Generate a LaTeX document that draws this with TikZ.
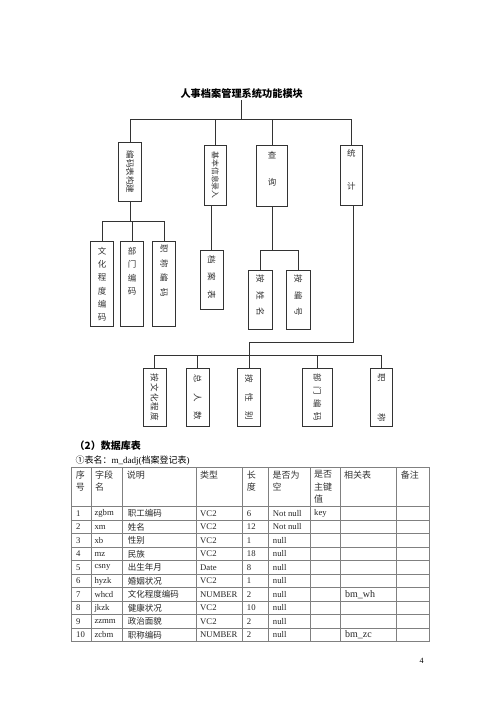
\documentclass[tikz,border=0pt]{standalone}
\usepackage{fontspec}
\setmainfont{Liberation Serif}
\newfontfamily\cjk{Noto Sans CJK SC}
\usepackage{graphicx}
\usetikzlibrary{positioning}

\tikzset{
	box/.style={draw=black!80, fill=white, line width=0.8pt, inner sep=0pt, align=center, text=black!80, font=\cjk\fontsize{8.5}{11}\selectfont},
	wire/.style={draw=black!80, line width=0.8pt},
	rule/.style={draw=black!50, line width=0.8pt},
	cell/.style={anchor=west, inner sep=0pt, text=black!85, font=\fontsize{8.7}{11}\selectfont},
	head/.style={anchor=north west, inner sep=0pt, align=left, text=black!80, font=\cjk\fontsize{9}{12.5}\selectfont},
}
\newcommand{\vtxt}[1]{\rotatebox{-90}{#1}}
\newcommand{\gp}[1]{\hspace{#1pt}}

\begin{document}
\begin{tikzpicture}[x=1pt, y=-1pt]
		\fill[white] (0,0) rectangle (500,708);
		
		\node[inner sep=1pt, font=\cjk\bfseries\fontsize{10.2}{12}\selectfont](T) at (241.7,94){人事档案管理系统功能模块};
		
		\node[box, minimum width=23, minimum height=59.4](B1) at (130.2,172){\vtxt{编码表构建}};
		\node[box, minimum width=22.7, minimum height=59.7](B2) at (215.3,175.2){\vtxt{\fontsize{7.8}{9}\selectfont 基本信息录入}};
		\node[box, minimum width=31, minimum height=61.4](B3) at (272.2,176){查\\[15.7pt]询\\[4pt]\mbox{}};
		\node[box, minimum width=22.7, minimum height=59.7](B4) at (351.3,175.2){统\\[22.4pt]计\\\mbox{}};
		
		\coordinate (J0) at (241.7,119.5);
		\draw[wire] (T) -- (J0);
		\draw[wire] (B1.north) -- (B1.north|-J0) -- (B4.north|-J0) -- (B4.north);
		\draw[wire] (B2.north) -- (B2.north|-J0);
		\draw[wire] (B3.north) -- (B3.north|-J0);
		
		\node[box, minimum width=22.6, minimum height=85, font=\cjk\fontsize{8.5}{13.3}\selectfont](S1) at (102,284.2){文\\化\\程\\度\\编\\码};
		\node[box, minimum width=22.6, minimum height=85, font=\cjk\fontsize{8.5}{13.3}\selectfont](S2) at (132,284.2){部\\门\\编\\码\\\mbox{}\\\mbox{}};
		\node[box, minimum width=23, minimum height=85](S3) at (164.2,284.2){\vtxt{职\gp6称\gp6编\gp6码\gp{27}}};
		\node[box, minimum width=23.3, minimum height=59.3](S4) at (211.7,279.7){\vtxt{档\gp9案\gp9表\gp5}};
		
		\coordinate (J1) at (130.2,221.7);
		\draw[wire] (B1) -- (J1);
		\draw[wire] (S1.north) -- (S1.north|-J1) -- (S3.north|-J1) -- (S3.north);
		\draw[wire] (S2.north) -- (S2.north|-J1);
		\draw[wire] (S4.north) -- (S4.north|-B2.south);
		
		\node[box, minimum width=24, minimum height=59.3](Q1) at (260.3,299.7){\vtxt{按\gp8姓\gp8名\gp8}};
		\node[box, minimum width=23.3, minimum height=59.3](Q2) at (298.3,299.7){\vtxt{按\gp8编\gp8号\gp8}};
		
		\coordinate (J2) at (272.2,250.7);
		\draw[wire] (B3) -- (J2);
		\draw[wire] (Q1.north) -- (Q1.north|-J2) -- (Q2.north|-J2) -- (Q2.north);
		
		\node[box, minimum width=22.7, minimum height=58.4](C1) at (154.7,397.5){\vtxt{按\gp{1.2}文\gp{1.2}化\gp{1.2}程\gp{1.2}度}};
		\node[box, minimum width=23.3, minimum height=58.4](C2) at (197.7,397.5){\vtxt{总\gp{10}人\gp{10}数}};
		\node[box, minimum width=23, minimum height=58.4](C3) at (249.2,397.5){\vtxt{按\gp{10}性\gp{10}别}};
		\node[box, minimum width=30, minimum height=58.4](C4) at (317.3,397.5){\vtxt{部\gp{4.5}门\gp{4.5}编\gp{4.5}码}};
		\node[box, minimum width=22, minimum height=58.4](C5) at (381.7,397.5){\vtxt{职\gp{31}称}};
		
		\coordinate (J3) at (353,342);
		\coordinate (J4) at (249.2,355);
		\draw[wire] (B4.south-|J3) -- (J3) -- (J3-|C3.north) -- (C3.north);
		\draw[wire] (C1.north) -- (C1.north|-J4) -- (C5.north|-J4) -- (C5.north);
		\draw[wire] (C2.north) -- (C2.north|-J4);
		\draw[wire] (C4.north) -- (C4.north|-J4);
		
		\node[anchor=west, inner sep=0pt, font=\cjk\bfseries\fontsize{10}{12}\selectfont](DB) at (74.5,446){（2）数据库表};
		\node[anchor=west, inner sep=0pt, font=\fontsize{9}{11}\selectfont](TN) at (75.5,461){{\cjk ①表名：}m\_dadj({\cjk 档案登记表})};
		
		\foreach \x in {71.7,91,122.7,196,242.7,268.3,310,340,396.7,429}
			\draw[rule] (\x,467.3) -- (\x,641.7);
		\draw[rule] (71.7,467.3) -- (429,467.3);
		\foreach \i in {0,...,10}
			\draw[rule] (71.7,{506.7+13.5*\i}) -- (429,{506.7+13.5*\i});
		
		\foreach \x/\h [count=\c] in {71.7/序\\号, 91/字段\\名, 122.7/说明, 196/类型, 242.7/长\\度, 268.3/是否为\\空, 310/是否\\主键\\值, 340/相关表, 396.7/备注}
			\node[head](H\c) at ({\x+4},470.5){\h};
		
		\foreach \rno/\rfd/\rds/\rtp/\rln/\rnl/\rpk/\rrt [count=\r] in {
			1/zgbm/职工编码/VC2/6/Not null/key/{},
			2/xm/姓名/VC2/12/Not null/{}/{},
			3/xb/性别/VC2/1/null/{}/{},
			4/mz/民族/VC2/18/null/{}/{},
			5/csny/出生年月/Date/8/null/{}/{},
			6/hyzk/婚姻状况/VC2/1/null/{}/{},
			7/whcd/文化程度编码/NUMBER/2/null/{}/bm\_wh,
			8/jkzk/健康状况/VC2/10/null/{}/{},
			9/zzmm/政治面貌/VC2/2/null/{}/{},
			10/zcbm/职称编码/NUMBER/2/null/{}/bm\_zc}{
			\node[cell](N\r) at (76,{499.95+13.5*\r}){\rno};
			\node[cell](F\r) at (94.3,{499.95+13.5*\r}){\rfd};
			\node[cell, font=\cjk\fontsize{8.5}{11}\selectfont](D\r) at (127.7,{499.95+13.5*\r}){\rds};
			\node[cell](Y\r) at (200,{499.95+13.5*\r}){\rtp};
			\node[cell](L\r) at (246.7,{499.95+13.5*\r}){\rln};
			\node[cell](U\r) at (272.7,{499.95+13.5*\r}){\rnl};
			\node[cell](K\r) at (314,{499.95+13.5*\r}){\rpk};
			\node[cell, font=\fontsize{10}{11}\selectfont](R\r) at (345,{499.95+13.5*\r}){\rrt};
		}
		
		\node[inner sep=0pt, font=\fontsize{8}{9}\selectfont](PG) at (421.7,661){4};
\end{tikzpicture}
\end{document}
